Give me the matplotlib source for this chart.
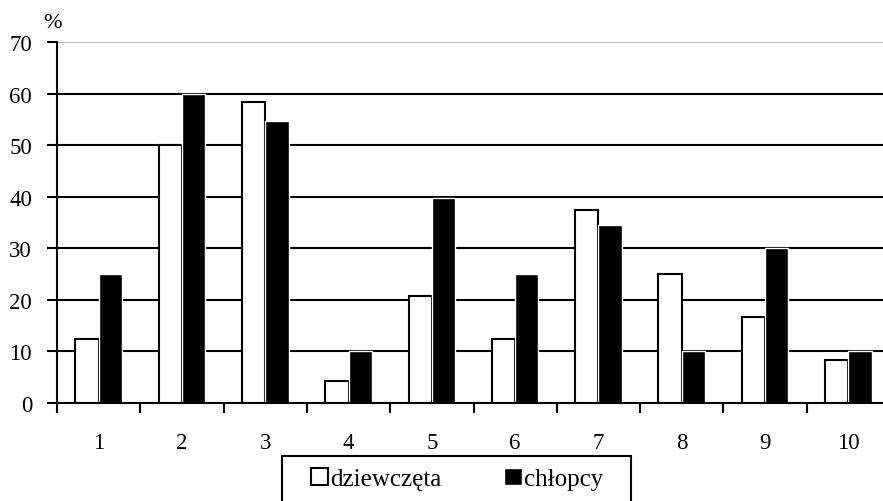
import numpy as np
import matplotlib
matplotlib.use("Agg")
import matplotlib.pyplot as plt
from matplotlib.patches import Rectangle

plt.rcParams['font.family'] = ['Liberation Serif', 'DejaVu Serif']

groups = ['1', '2', '3', '4', '5', '6', '7', '8', '9', '10']
dziewczeta = [12.5, 50, 58.3, 4.2, 20.8, 12.5, 37.5, 25, 16.7, 8.3]
chlopcy = [25, 60, 54.7, 10, 39.8, 25, 34.6, 10, 30, 10]

W, H = 883, 502
fig = plt.figure(figsize=(W / 100, H / 100), dpi=100)
# axis runs a bit past the right edge of the picture
ax = fig.add_axes([57 / W, 1 - 404 / H, 833 / W, 361 / H])

x = np.arange(1, len(groups) + 1)
w = 0.28
ax.bar(x - w / 2, dziewczeta, w, color='white', edgecolor='black', linewidth=1.5,
       zorder=3, label='dziewczęta')
ax.bar(x + w / 2, chlopcy, w, color='black', edgecolor='white', linewidth=1,
       zorder=3, label='chłopcy')

ax.set_xlim(0.5, len(groups) + 0.5)
ax.set_ylim(0, 70)
ax.set_yticks(range(0, 71, 10))
for v in range(10, 61, 10):
    ax.axhline(v, color='black', lw=1.5, zorder=1)
ax.axhline(70, color='#b0b0b0', lw=1.2, zorder=1)

ax.set_xticks(x)
ax.set_xticklabels(groups)
ax.set_xticks(np.arange(0.5, len(groups) + 1), minor=True)
ax.tick_params(axis='x', which='major', length=0, pad=21, labelsize=16.5)
ax.tick_params(axis='x', which='minor', length=7, width=1.5, direction='out')
ax.tick_params(axis='y', length=7, width=1.5, direction='out', labelsize=16.5, pad=11)

for s in ['top', 'right']:
    ax.spines[s].set_visible(False)
ax.spines['left'].set_linewidth(1.5)
ax.spines['bottom'].set_linewidth(1.5)
ax.spines['bottom'].set_zorder(4)

fig.text(52 / W, 1 - 24 / H, '%', fontsize=16, ha='center', va='center')

# legend box
fig.patches.append(Rectangle((282 / W, 1 - 506 / H), 349 / W, 49 / H,
                             transform=fig.transFigure, fill=False,
                             edgecolor='black', linewidth=1.5))
leg = fig.legend(loc='center', bbox_to_anchor=(457 / W, 1 - 480 / H),
                 ncol=2, frameon=False, fontsize=18,
                 handlelength=0.7, handleheight=0.7, handletextpad=0.1,
                 columnspacing=2.5, borderpad=0)

fig.savefig('out.png', dpi=100)
